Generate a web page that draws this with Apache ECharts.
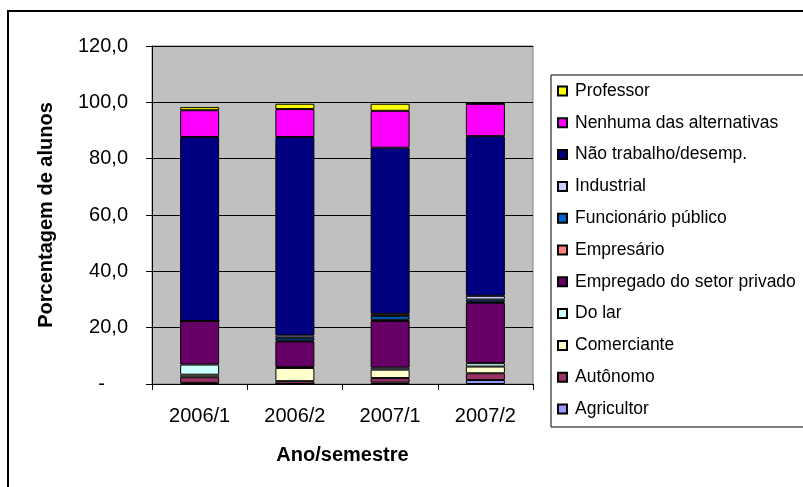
<!DOCTYPE html>
<html>
<head>
<meta charset="utf-8">
<script src="https://cdn.jsdelivr.net/npm/echarts@6/dist/echarts.min.js"></script>
<style>
  html, body { margin: 0; padding: 0; background: #fff; }
  #chart { width: 803px; height: 487px; }
</style>
</head>
<body>
<div id="chart"></div>
<script>
// categorias (ano/semestre)
var categories = ['2006/1', '2006/2', '2007/1', '2007/2'];

// percentuais, de baixo para cima
var agricultor  = [0.4, 0.0, 0.5, 1.4];
var autonomo    = [2.0, 1.0, 1.6, 2.4];
var comerciante = [0.9, 4.7, 3.0, 2.4];
var doLar       = [3.6, 0.3, 0.7, 1.2];
var empregado   = [15.5, 9.1, 16.6, 21.4];
var empresario  = [0.0, 0.3, 0.4, 0.4];
var funcionario = [0.0, 1.0, 1.3, 0.8];
var industrial  = [0.0, 0.8, 0.8, 1.3];
var naoTrabalho = [65.3, 70.5, 59.0, 56.7];
var nenhuma     = [9.5, 9.9, 13.1, 11.5];
var professor   = [1.1, 1.9, 2.5, 0.0];

var yTicks = [0, 20, 40, 60, 80, 100, 120];

var seriesDefs = [
    ['Agricultor', agricultor, '#9999FF'],
    ['Autônomo', autonomo, '#993366'],
    ['Comerciante', comerciante, '#FFFFCC'],
    ['Do lar', doLar, '#CCFFFF'],
    ['Empregado do setor privado', empregado, '#660066'],
    ['Empresário', empresario, '#FF8080'],
    ['Funcionário público', funcionario, '#0066CC'],
    ['Industrial', industrial, '#CCCCFF'],
    ['Não trabalho/desemp.', naoTrabalho, '#000080'],
    ['Nenhuma das alternativas', nenhuma, '#FF00FF'],
    ['Professor', professor, '#FFFF00']
];

var font = "'Liberation Sans', Arial, sans-serif";

var chartDom = document.getElementById('chart');
var myChart = echarts.init(chartDom);

var option = {
    animation: false,
    backgroundColor: '#fff',
    textStyle: { fontFamily: font, color: '#000' },
    graphic: [{
        type: 'rect',
        silent: true,
        z: -1,
        shape: { x: 8, y: 11, width: 900, height: 600 },
        style: { fill: null, stroke: '#000', lineWidth: 2 }
    }],
    grid: {
        left: 152,
        top: 46,
        width: 381,
        height: 338,
        show: true,
        backgroundColor: '#C0C0C0',
        borderColor: '#808080',
        borderWidth: 1
    },
    legend: {
        orient: 'vertical',
        left: 551,
        top: 75,
        data: seriesDefs.map(function (d) { return d[0]; }).reverse(),
        icon: 'rect',
        itemWidth: 9,
        itemHeight: 9,
        itemGap: 13.8,
        padding: [7, 60, 9, 6],
        backgroundColor: '#fff',
        borderColor: '#000',
        borderWidth: 1,
        selectedMode: false,
        textStyle: { fontFamily: font, fontSize: 17.5, lineHeight: 18, color: '#000', padding: [0, 0, 0, 3] }
    },
    xAxis: {
        type: 'category',
        data: categories,
        name: 'Ano/semestre',
        nameLocation: 'middle',
        nameGap: 61,
        nameTextStyle: { fontFamily: font, fontSize: 20, fontWeight: 'bold', color: '#000' },
        axisLine: { lineStyle: { color: '#000', width: 1 } },
        axisTick: { show: true, length: 6, lineStyle: { color: '#000' } },
        axisLabel: { fontFamily: font, fontSize: 20, color: '#000', margin: 22 }
    },
    yAxis: {
        type: 'value',
        min: yTicks[0],
        max: yTicks[yTicks.length - 1],
        interval: 20,
        name: 'Porcentagem de alunos',
        nameLocation: 'middle',
        nameGap: 96,
        nameTextStyle: { fontFamily: font, fontSize: 20, fontWeight: 'bold', color: '#000' },
        axisLine: { show: true, lineStyle: { color: '#000', width: 1 } },
        axisTick: { show: true, length: 6, lineStyle: { color: '#000' } },
        splitLine: { show: true, lineStyle: { color: '#000', width: 1 } },
        axisLabel: {
            fontFamily: font,
            fontSize: 20,
            color: '#000',
            margin: 24,
            formatter: function (v) {
                if (v === 0) return '{z|-}';
                return v.toFixed(1).replace('.', ',');
            },
            rich: {
                z: { fontFamily: font, fontSize: 20, color: '#000', padding: [0, 23, 0, 0] }
            }
        }
    },
    series: seriesDefs.map(function (d) {
        return {
            name: d[0],
            type: 'bar',
            stack: 'total',
            barWidth: 39,
            data: d[1],
            itemStyle: { color: d[2], borderColor: '#000', borderWidth: 1 },
            emphasis: { disabled: true }
        };
    })
};

option && myChart.setOption(option);
</script>
</body>
</html>
